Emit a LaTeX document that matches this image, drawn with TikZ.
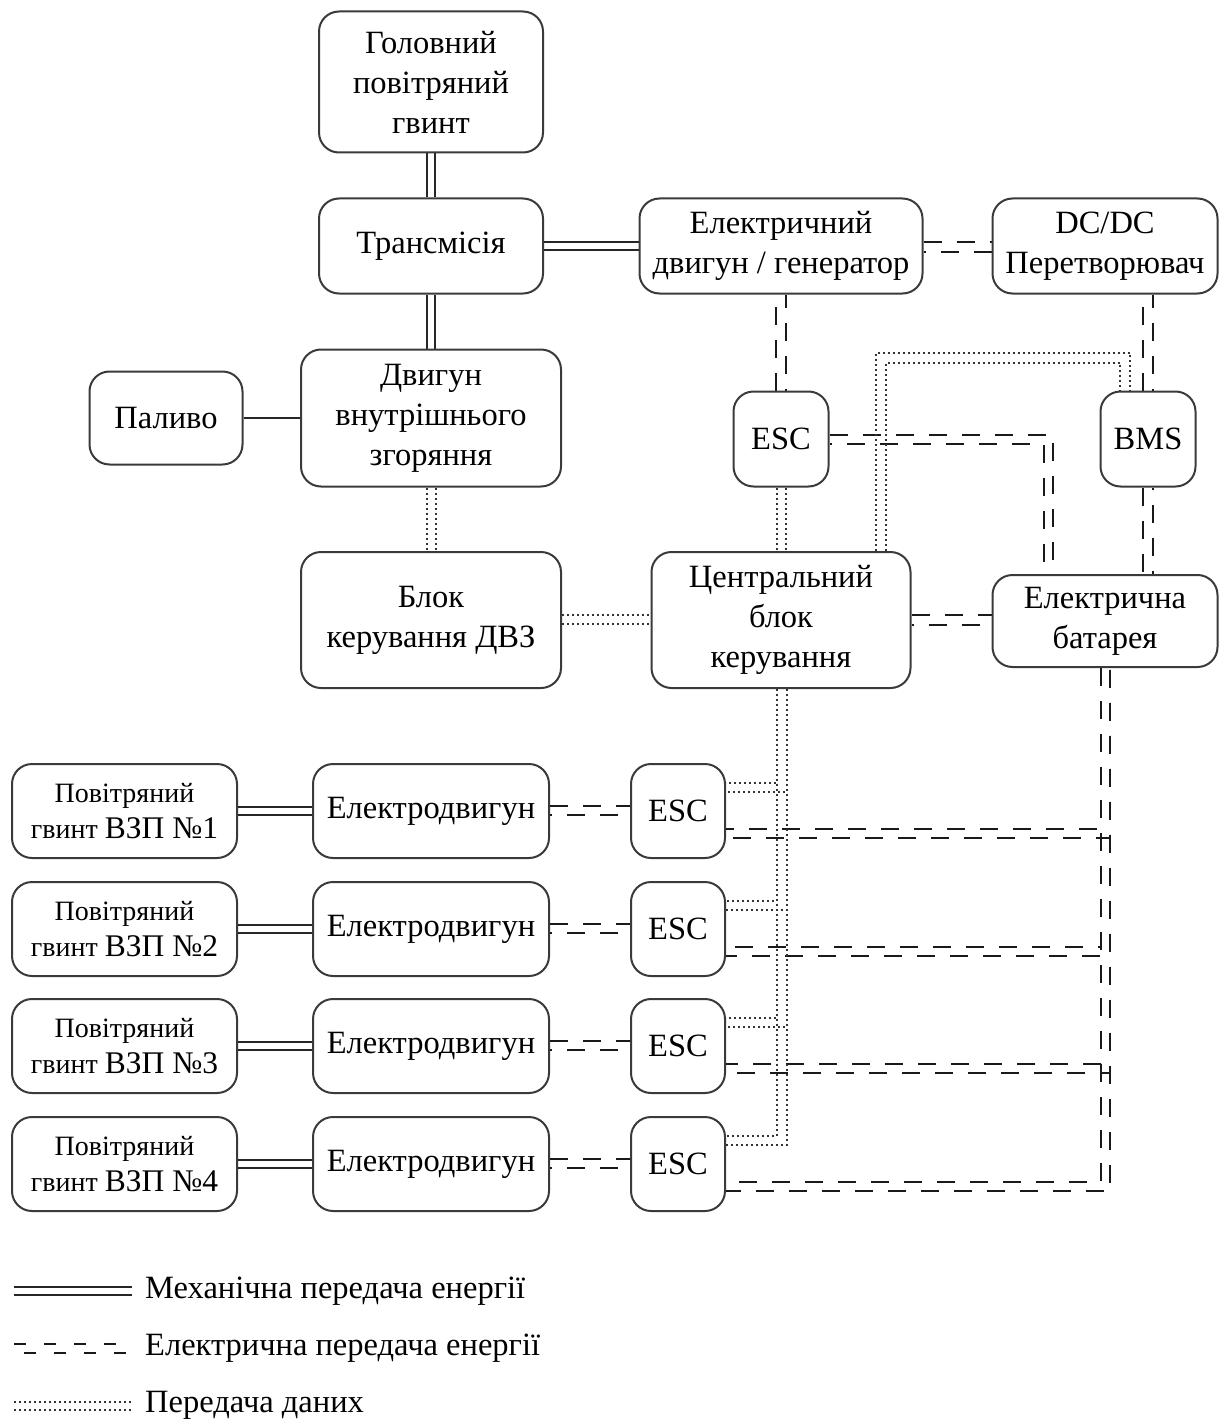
\documentclass[tikz,border=0pt]{standalone}
\usepackage{fontspec}
\setmainfont{Liberation Serif}
\usetikzlibrary{calc,backgrounds}
\definecolor{boxline}{HTML}{3A3A3A}
\definecolor{datline}{HTML}{333333}
\tikzset{
  blk/.style={draw=boxline, line width=2pt, rounded corners=20pt, fill=white,
    inner sep=0pt, align=center, font=\fontsize{32.5}{40}\selectfont},
  small/.style={font=\fontsize{28}{36}\selectfont},
  mech/.style={draw=black!85, line width=2pt, double=white, double distance=6.5pt},
  single/.style={draw=black!85, line width=2pt},
  el/.style={draw=black!90, line width=2.2pt, dash pattern=on 18pt off 15pt},
  elb/.style={el, dash phase=16pt},
  elc/.style={el, dash phase=31.5pt},
  dat/.style={draw=datline, line width=2pt, dash pattern=on 2pt off 3pt},
  legtext/.style={anchor=west, inner sep=0pt, font=\fontsize{32.5}{40}\selectfont}
}
\begin{document}
\begin{tikzpicture}[x=1pt,y=-1pt]
\useasboundingbox (0,0) rectangle (1226,1423);
% nodes
\node[blk, minimum width=224pt, minimum height=141pt] (gv) at (431,82) {Головний\\повітряний\\гвинт};
\node[blk, minimum width=224pt, minimum height=95pt] (tr) at (431,246) {Трансмісія};
\node[blk, minimum width=260pt, minimum height=137pt] (dvz) at (431,418) {Двигун\\внутрішнього\\згоряння};
\node[blk, minimum width=153pt, minimum height=93pt] (pal) at (166,418) {Паливо};
\node[blk, minimum width=260pt, minimum height=136pt] (bd) at (431,620) {Блок\\керування ДВЗ};
\node[blk, minimum width=283pt, minimum height=95pt] (eg) at (781,246) {Електричний\\двигун / генератор};
\node[blk, minimum width=225pt, minimum height=95pt] (dc) at (1105,246) {DC/DC\\Перетворювач};
\node[blk, minimum width=95pt, minimum height=95pt] (esc0) at (781,439) {ESC};
\node[blk, minimum width=95pt, minimum height=95pt] (bms) at (1148,439) {BMS};
\node[blk, minimum width=259pt, minimum height=136pt] (cb) at (781,620) {Центральний\\блок\\керування};
\node[blk, minimum width=225pt, minimum height=92pt] (bat) at (1105,621) {Електрична\\батарея};
\foreach \k/\y in {1/811,2/929,3/1046,4/1164}{
  \node[blk, small, minimum width=225pt, minimum height=94pt] (p\k) at (124.5,\y) {Повітряний\\гвинт {\fontsize{31.5}{36}\selectfont ВЗП №\k}};
  \node[blk, minimum width=236pt, minimum height=94pt] (m\k) at (431,\y) {Електродвигун};
  \node[blk, minimum width=94pt, minimum height=94pt] (e\k) at (678,\y) {ESC};
}
% connectors
\begin{pgfonlayer}{background}
\draw[mech] (gv) -- (tr);
\draw[mech] (tr) -- (dvz);
\draw[mech] (tr) -- (eg);
\draw[single] (pal) -- (dvz);
\foreach \k in {1,2,3,4}{
  \draw[mech] (p\k) -- (m\k);
  \draw[el] ($(m\k.east)+(0,-5)$) -- ($(e\k.west)+(0,-5)$);
  \draw[elb] ($(m\k.east)+(0,4)$) -- ($(e\k.west)+(0,4)$);
  % data from central
  \draw[dat] ($(cb.south)+(-4,0)$) |- ($(e\k.east)+(0,-28)$);
  \draw[dat] ($(cb.south)+(6,0)$) |- ($(e\k.east)+(0,-19)$);
  % power from battery
  \draw[el] ($(bat.south)+(-4,0)$) |- ($(e\k.east)+(0,18)$);
  \draw[elc] ($(bat.south)+(5,0)$) |- ($(e\k.east)+(0,27)$);
}
% electric
\draw[el] ($(eg.east)+(0,-4)$) -- ($(dc.west)+(0,-4)$);
\draw[elb] ($(eg.east)+(0,6)$) -- ($(dc.west)+(0,6)$);
\draw[el] ($(esc0.north)+(-5,0)$) -- ($(eg.south)+(-5,0)$);
\draw[elb] ($(esc0.north)+(5,0)$) -- ($(eg.south)+(5,0)$);
\coordinate (bq1) at ($(bms.north)+(-5,0)$);
\coordinate (bq2) at ($(bms.north)+(5,0)$);
\draw[el] (bq1) -- (bq1 |- dc.south);
\draw[elb] (bq2) -- (bq2 |- dc.south);
\coordinate (br1) at ($(bms.south)+(-5,0)$);
\coordinate (br2) at ($(bms.south)+(5,0)$);
\draw[el] (br1) -- (br1 |- bat.north);
\draw[elb] (br2) -- (br2 |- bat.north);
\draw[el] ($(esc0.east)+(0,-4)$) -| ($(bat.north)+(-52,0)$);
\draw[elb] ($(esc0.east)+(0,5)$) -| ($(bat.north)+(-61,0)$);
\draw[el] ($(cb.east)+(0,-5)$) -- ($(bat.west)+(0,-6)$);
\draw[elb] ($(cb.east)+(0,5)$) -- ($(bat.west)+(0,4)$);
% data
\draw[dat] ($(dvz.south)+(-4.5,0)$) -- ($(bd.north)+(-4.5,0)$);
\draw[dat] ($(dvz.south)+(4.5,0)$) -- ($(bd.north)+(4.5,0)$);
\draw[dat] ($(bd.east)+(0,-5)$) -- ($(cb.west)+(0,-5)$);
\draw[dat] ($(bd.east)+(0,4)$) -- ($(cb.west)+(0,4)$);
\draw[dat] ($(esc0.south)+(-4,0)$) -- ($(cb.north)+(-4,0)$);
\draw[dat] ($(esc0.south)+(5,0)$) -- ($(cb.north)+(5,0)$);
\draw[dat] ($(cb.north)+(95,0)$) |- ($(bms.north)+(-18,-38)$) -- ($(bms.north)+(-18,0)$);
\draw[dat] ($(cb.north)+(105,0)$) |- ($(bms.north)+(-28,-28)$) -- ($(bms.north)+(-28,0)$);
\end{pgfonlayer}
% legend
\coordinate (la1) at (14,1291); \coordinate (la2) at (132,1291);
\draw[mech] (la1) -- (la2);
\node[legtext] (lt1) at (145,1291) {Механічна передача енергії};
\coordinate (lb1) at (14,1344); \coordinate (lb2) at (132,1344);
\coordinate (lc1) at (14,1353); \coordinate (lc2) at (132,1353);
\draw[el, dash pattern=on 12pt off 18pt] (lb1) -- (lb2);
\draw[el, dash pattern=on 12pt off 18pt, dash phase=20pt] (lc1) -- (lc2);
\node[legtext] (lt2) at (145,1348) {Електрична передача енергії};
\coordinate (ld1) at (14,1402); \coordinate (ld2) at (132,1402);
\coordinate (le1) at (14,1410); \coordinate (le2) at (132,1410);
\draw[dat] (ld1) -- (ld2);
\draw[dat] (le1) -- (le2);
\node[legtext] (lt3) at (145,1405) {Передача даних};
\end{tikzpicture}
\end{document}
